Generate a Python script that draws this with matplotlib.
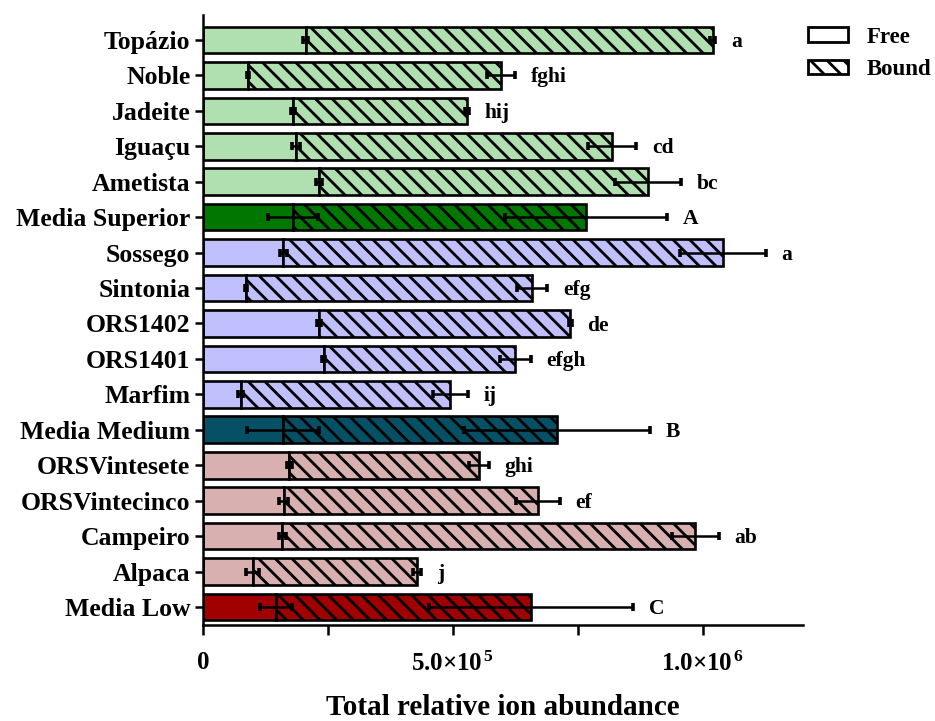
import matplotlib
matplotlib.use("Agg")
import matplotlib.pyplot as plt
from matplotlib.patches import Patch
from matplotlib.ticker import FixedLocator

plt.rcParams['font.family'] = ['Liberation Serif', 'DejaVu Serif']
plt.rcParams['font.weight'] = 'bold'
plt.rcParams['mathtext.fontset'] = 'custom'
plt.rcParams['mathtext.rm'] = 'Liberation Serif:bold'
plt.rcParams['mathtext.bf'] = 'Liberation Serif:bold'
plt.rcParams['mathtext.it'] = 'Liberation Serif:italic:bold'
plt.rcParams['hatch.linewidth'] = 2.0
plt.rcParams['hatch.color'] = 'black'

cultivars = ['Topázio', 'Noble', 'Jadeite', 'Iguaçu', 'Ametista', 'Media Superior',
             'Sossego', 'Sintonia', 'ORS1402', 'ORS1401', 'Marfim', 'Media Medium',
             'ORSVintesete', 'ORSVintecinco', 'Campeiro', 'Alpaca', 'Media Low']
free = [2.06e5, 0.90e5, 1.80e5, 1.87e5, 2.33e5, 1.80e5,
        1.61e5, 0.87e5, 2.33e5, 2.42e5, 0.76e5, 1.61e5,
        1.73e5, 1.62e5, 1.59e5, 1.00e5, 1.47e5]
free_err = [5e3, 2e3, 4e3, 8e3, 6e3, 5.0e4,
            7e3, 2e3, 4e3, 3e3, 5e3, 7.2e4,
            5e3, 9e3, 7e3, 1.3e4, 3.2e4]
bound = [8.14e5, 5.07e5, 3.48e5, 6.32e5, 6.57e5, 5.87e5,
         8.79e5, 5.72e5, 5.02e5, 3.83e5, 4.19e5, 5.48e5,
         3.79e5, 5.08e5, 8.26e5, 3.29e5, 5.10e5]
total_err = [5e3, 2.8e4, 4e3, 4.8e4, 6.6e4, 1.62e5,
             8.6e4, 3.0e4, 3e3, 3.1e4, 3.5e4, 1.86e5,
             2.0e4, 4.4e4, 4.7e4, 8e3, 2.04e5]
letters = ['a', 'fghi', 'hij', 'cd', 'bc', 'A',
           'a', 'efg', 'de', 'efgh', 'ij', 'B',
           'ghi', 'ef', 'ab', 'j', 'C']
groups = ['sup'] * 5 + ['supmean'] + ['med'] * 5 + ['medmean'] + ['low'] * 4 + ['lowmean']
group_colors = {'sup': '#b0dfb0', 'supmean': '#007800',
                'med': '#c0c0ff', 'medmean': '#055064',
                'low': '#d8b0b0', 'lowmean': '#a00000'}
xtick_values = [0, 5e5, 1e6]
xtick_labels = ['0', '5.0×10$^{\\,5}$', '1.0×10$^{\\,6}$']

fig = plt.figure(figsize=(9.35, 7.21), dpi=100)
ax = fig.add_axes([0.2171, 0.1331, 0.6417, 0.8461])

ypos = list(range(len(cultivars)))
colors = [group_colors[g] for g in groups]
totals = [f + b for f, b in zip(free, bound)]

ax.barh(ypos, free, height=0.75, color=colors, edgecolor='black', linewidth=1.9, zorder=2)
ax.barh(ypos, bound, left=free, height=0.75, color=colors, edgecolor='black',
        linewidth=1.9, hatch='\\\\', zorder=2)
ax.errorbar(free, ypos, xerr=free_err, fmt='none', ecolor='black', elinewidth=1.8,
            capsize=2.6, capthick=2.6, zorder=5)
ax.errorbar(totals, ypos, xerr=total_err, fmt='none', ecolor='black', elinewidth=1.8,
            capsize=2.6, capthick=2.6, zorder=5)

for y, t, e, lab in zip(ypos, totals, total_err, letters):
    ax.annotate(lab, xy=(t + e, y), xytext=(11, -1.5), textcoords='offset points',
                ha='left', va='center', fontsize=15.5, fontweight='bold')

ax.set_ylim(16.51, -0.705)
ax.set_xlim(0, 1.2e6)
ax.set_yticks(ypos)
ax.set_yticklabels(cultivars, fontsize=18.5, fontweight='bold')
ax.set_xticks(xtick_values)
ax.set_xticklabels(xtick_labels, fontsize=18, fontweight='bold')
ax.xaxis.set_minor_locator(FixedLocator([2.5e5, 7.5e5]))
ax.tick_params(axis='y', length=6, width=1.8, direction='out', pad=3)
ax.tick_params(axis='x', which='both', length=7, width=1.8, direction='out', pad=12)
for s in ['top', 'right']:
    ax.spines[s].set_visible(False)
for s in ['left', 'bottom']:
    ax.spines[s].set_linewidth(1.8)
ax.set_xlabel('Total relative ion abundance', fontsize=21, fontweight='bold', labelpad=13.5)

handles = [Patch(facecolor='white', edgecolor='black', linewidth=2, label='Free'),
           Patch(facecolor='white', edgecolor='black', linewidth=2, hatch='\\\\', label='Bound')]
fig.legend(handles=handles, loc='upper left', bbox_to_anchor=(0.864, 0.963), frameon=False,
           prop={'family': 'Liberation Serif', 'weight': 'bold', 'size': 16.5},
           handlelength=1.75, handleheight=0.62, handletextpad=0.8, labelspacing=0.5,
           borderpad=0, borderaxespad=0)

fig.savefig('out.png', dpi=100)
